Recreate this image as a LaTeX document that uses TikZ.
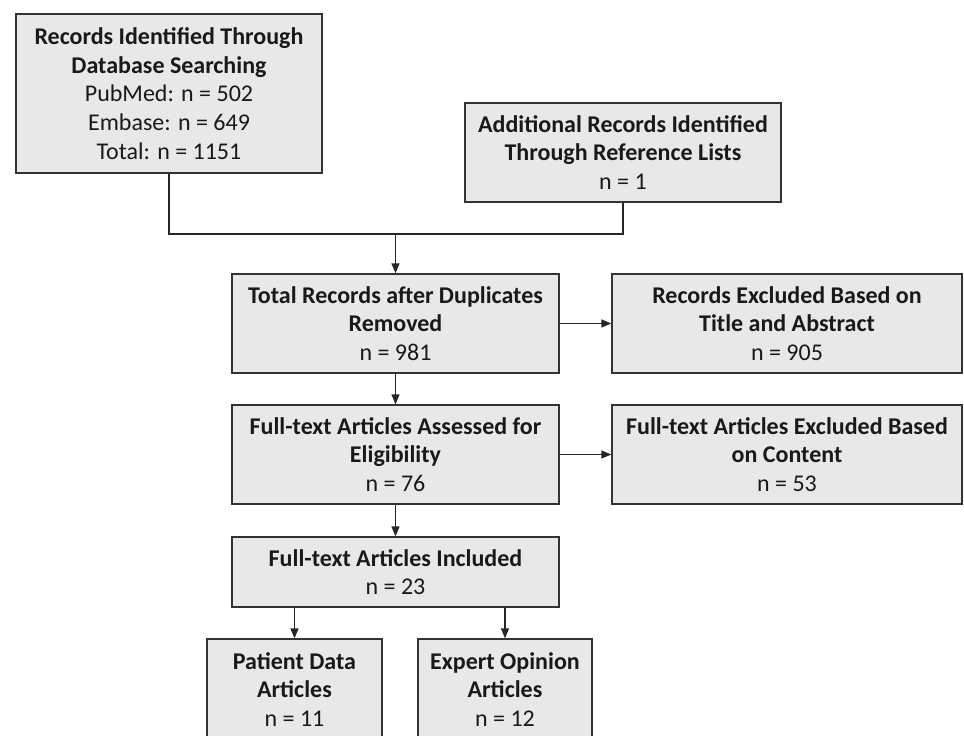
\documentclass[tikz,border=0pt]{standalone}
\usepackage{fontspec}
\setmainfont{Carlito}
\usetikzlibrary{arrows.meta}
\definecolor{boxfill}{HTML}{E8E8E8}
\definecolor{boxline}{HTML}{333333}
\tikzset{
  box/.style={draw=boxline, fill=boxfill, line width=1.3pt, align=center, inner sep=0pt,
    font=\fontsize{24}{28.7}\selectfont, text=black!90},
  conn/.style={draw=black!85, line width=1.3pt},
  arr/.style={conn, -{Triangle[length=10pt,width=8pt]}}
}
\newcommand{\hd}[1]{\textbf{#1}}
\begin{document}
\begin{tikzpicture}[x=1pt,y=-1pt]
\useasboundingbox (0,0) rectangle (964,736);
\begin{scope}
\clip (0,0) rectangle (964,736);
\node[box, minimum width=306pt, minimum height=159pt] (b1) at (169,93.5)
  {\hd{Records Identified Through}\\\hd{Database Searching}\\PubMed: n = 502\\Embase: n = 649\\Total: n = 1151};
\node[box, minimum width=316pt, minimum height=99pt] (b2) at (623,152.5)
  {\hd{Additional Records Identified}\\\hd{Through Reference Lists}\\n = 1};
\node[box, minimum width=327pt, minimum height=99pt] (b3) at (395.5,323.5)
  {\hd{Total Records after Duplicates}\\\hd{Removed}\\n = 981};
\node[box, minimum width=350pt, minimum height=99pt] (b3r) at (787,323.5)
  {\hd{Records Excluded Based on}\\\hd{Title and Abstract}\\n = 905};
\node[box, minimum width=327pt, minimum height=99pt] (b4) at (395.5,454.5)
  {\hd{Full-text Articles Assessed for}\\\hd{Eligibility}\\n = 76};
\node[box, minimum width=350pt, minimum height=99pt] (b4r) at (787,454.5)
  {\hd{Full-text Articles Excluded Based}\\\hd{on Content}\\n = 53};
\node[box, minimum width=327pt, minimum height=70pt] (b5) at (395.5,572)
  {\hd{Full-text Articles Included}\\n = 23};
\node[box, minimum width=175pt, minimum height=101pt] (b6) at (294.5,689.5)
  {\hd{Patient Data}\\\hd{Articles}\\n = 11};
\node[box, minimum width=174pt, minimum height=101pt] (b7) at (505,689.5)
  {\hd{Expert Opinion}\\\hd{Articles}\\n = 12};
\coordinate (j) at (395.5,234);
\draw[conn] (b1.south) -- (b1.south |- j) -- (b2.south |- j) -- (b2.south);
\draw[arr] (j) -- (b3.north);
\draw[arr] (b3.east) -- (b3r.west);
\draw[arr] (b3.south) -- (b4.north);
\draw[arr] (b4.east) -- (b4r.west);
\draw[arr] (b4.south) -- (b5.north);
\draw[arr] (b6.north |- b5.south) -- (b6.north);
\draw[arr] (b7.north |- b5.south) -- (b7.north);
\end{scope}
\end{tikzpicture}
\end{document}
